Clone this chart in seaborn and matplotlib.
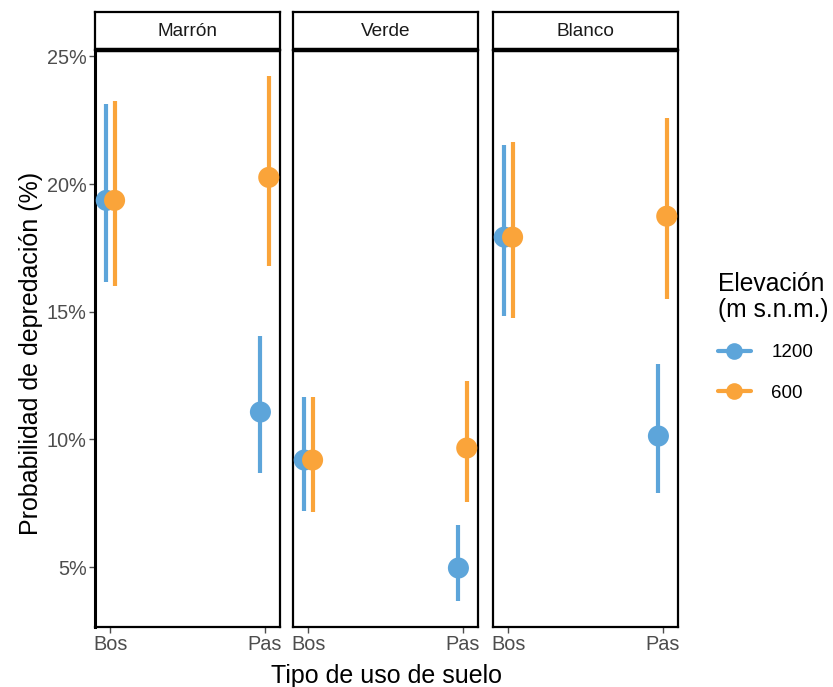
import matplotlib
matplotlib.use("Agg")
import matplotlib.pyplot as plt
from matplotlib.lines import Line2D
import seaborn as sns
import pandas as pd
import numpy as np

# ---- data (percent) ----
colores = ["Marrón", "Verde", "Blanco"]
usos = ["Bos", "Pas"]
elevaciones = ["1200", "600"]

# order: (color, uso, elevacion)
color_col = ["Marrón"] * 4 + ["Verde"] * 4 + ["Blanco"] * 4
uso_col = ["Bos", "Bos", "Pas", "Pas"] * 3
elev_col = ["1200", "600"] * 6
prob = [19.36, 19.36, 11.07, 20.26,
        9.19, 9.19, 4.96, 9.66,
        17.92, 17.92, 10.13, 18.74]
lower = [16.15, 16.00, 8.68, 16.78,
         7.19, 7.15, 3.67, 7.54,
         14.82, 14.75, 7.90, 15.49]
upper = [23.12, 23.24, 14.04, 24.22,
         11.65, 11.65, 6.64, 12.28,
         21.52, 21.63, 12.95, 22.57]

df = pd.DataFrame({"color": color_col, "uso": uso_col, "elev": elev_col,
                   "prob": prob, "lo": lower, "hi": upper})

palette = {"1200": "#5DA5DA", "600": "#FAA43A"}
dodge = {"1200": -0.027, "600": 0.027}
df["x"] = df["uso"].map({u: i for i, u in enumerate(usos)}) + df["elev"].map(dodge)

sns.set_theme(style="white")
plt.rcParams["font.family"] = ["Liberation Sans", "DejaVu Sans"]

W, H = 833, 687
fig = plt.figure(figsize=(W / 100, H / 100), dpi=100)

panels = [(95, 280), (293, 478), (493, 678)]
top_px, bot_px, strip_top = 50, 627, 12

def fx(px):
    return px / W

def fy(py):
    return 1 - py / H

tick_gray = "#4D4D4D"
tick_fs = 14.3
for i, (col, (l, r)) in enumerate(zip(colores, panels)):
    ax = fig.add_axes([fx(l), fy(bot_px), fx(r - l), fy(top_px) - fy(bot_px)])
    sub = df[df["color"] == col]
    for elev in elevaciones:
        s = sub[sub["elev"] == elev]
        ax.vlines(s["x"], s["lo"], s["hi"], color=palette[elev], lw=3.0, zorder=2)
    sns.scatterplot(data=sub, x="x", y="prob", hue="elev", palette=palette,
                    hue_order=elevaciones, s=230, linewidth=0, ax=ax,
                    legend=False, zorder=3)
    ax.set_xlim(-0.1, 1.1)
    ax.set_ylim(2.65, 25.25)
    ax.set_xticks([0, 1])
    ax.set_xticklabels(usos)
    ax.set_xlabel("")
    ax.set_ylabel("")
    ax.set_yticks([5, 10, 15, 20, 25])
    if i == 0:
        ax.set_yticklabels([f"{v}%" for v in [5, 10, 15, 20, 25]])
        ax.tick_params(axis="y", left=True, length=4, width=1, color=tick_gray,
                       labelsize=tick_fs, labelcolor=tick_gray, pad=2)
    else:
        ax.tick_params(axis="y", left=False, labelleft=False)
    ax.tick_params(axis="x", bottom=True, length=4, width=1, color=tick_gray,
                   labelsize=tick_fs, labelcolor=tick_gray, pad=2)
    for sp in ax.spines.values():
        sp.set_visible(True)
        sp.set_color("black")
        sp.set_linewidth(1.6)
    if i == 0:
        ax.spines["left"].set_linewidth(2.2)
    ax.set_facecolor("white")

    # strip
    sax = fig.add_axes([fx(l), fy(top_px), fx(r - l), fy(strip_top) - fy(top_px)])
    sax.set_xticks([])
    sax.set_yticks([])
    for sp in sax.spines.values():
        sp.set_visible(True)
        sp.set_color("black")
        sp.set_linewidth(1.6)
    sax.spines["bottom"].set_linewidth(3.2)
    sax.spines["bottom"].set_capstyle("butt")
    sax.text(0.5, 0.5, col, ha="center", va="center", fontsize=13.7,
             color="#1A1A1A", transform=sax.transAxes)

fig.text(fx((95 + 678) / 2), fy(676), "Tipo de uso de suelo", ha="center",
         va="center", fontsize=18, color="black")
fig.text(fx(31), fy((top_px + bot_px) / 2 + 15), "Probabilidad de depredación (%)",
         ha="center", va="center", rotation=90, fontsize=18, color="black")

handles = [Line2D([0], [0], color=palette[e], lw=3.0, marker="o", markersize=12,
                  markeredgewidth=0) for e in elevaciones]
leg = fig.legend(handles, elevaciones, title="Elevación\n(m s.n.m.)",
                 loc="upper left", bbox_to_anchor=(fx(718), fy(272)),
                 frameon=False, fontsize=13.5, title_fontsize=17.7,
                 handlelength=1.75, labelspacing=1.25, handletextpad=1.1,
                 borderaxespad=0, borderpad=0)
leg._legend_box.align = "left"
leg._legend_box.sep = 16
leg.get_title().set_linespacing(1.1)
leg.get_title().set_color("black")
for t in leg.get_texts():
    t.set_color("black")

fig.savefig("out.png", dpi=100, facecolor="white")
